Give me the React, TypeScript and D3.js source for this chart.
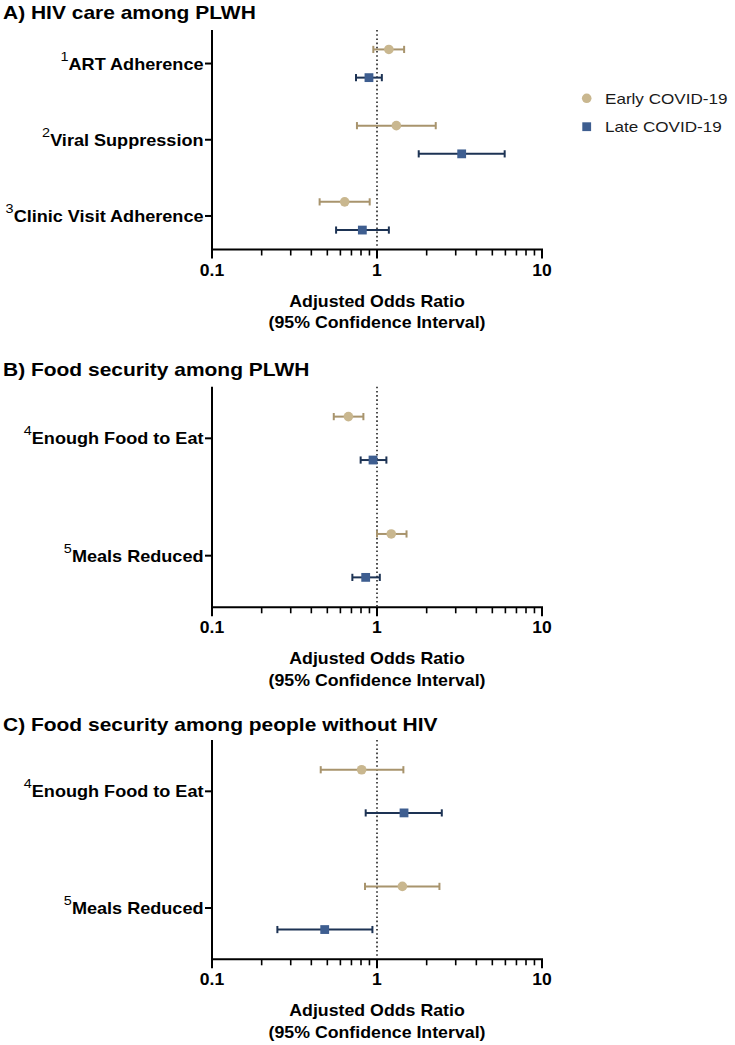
import React from 'react';
import * as d3 from 'd3';

// ---------- DATA ----------
const seriesNames = ['Early COVID-19', 'Late COVID-19'];
const panelTitles = [
  'A) HIV care among PLWH',
  'B) Food security among PLWH',
  'C) Food security among people without HIV',
];

// Panel A
const aCategories = ['ART Adherence', 'Viral Suppression', 'Clinic Visit Adherence'];
const aSuperscripts = ['1', '2', '3'];
const aEarlyOR = [1.18, 1.31, 0.637];
const aEarlyLo = [0.95, 0.756, 0.449];
const aEarlyHi = [1.46, 2.27, 0.903];
const aLateOR = [0.894, 3.26, 0.815];
const aLateLo = [0.746, 1.79, 0.565];
const aLateHi = [1.07, 5.94, 1.18];

// Panel B
const bCategories = ['Enough Food to Eat', 'Meals Reduced'];
const bSuperscripts = ['4', '5'];
const bEarlyOR = [0.671, 1.22];
const bEarlyLo = [0.547, 1.0];
const bEarlyHi = [0.827, 1.51];
const bLateOR = [0.946, 0.854];
const bLateLo = [0.796, 0.709];
const bLateHi = [1.14, 1.04];

// Panel C
const cCategories = ['Enough Food to Eat', 'Meals Reduced'];
const cSuperscripts = ['4', '5'];
const cEarlyOR = [0.807, 1.425];
const cEarlyLo = [0.456, 0.846];
const cEarlyHi = [1.445, 2.39];
const cLateOR = [1.458, 0.482];
const cLateLo = [0.854, 0.249];
const cLateHi = [2.47, 0.938];

const xMajorTicks = [0.1, 1, 10];
const xTickLabels = ['0.1', '1', '10'];
const xAxisTitle = ['Adjusted Odds Ratio', '(95% Confidence Interval)'];

// ---------- STYLE / LAYOUT ----------
const W = 735;
const H = 1045;
const FONT = '"Liberation Sans", Arial, Helvetica, sans-serif';
const SX = 1.11; // horizontal stretch of the reference
const EARLY_FILL = '#c9b78f';
const EARLY_LINE = '#a8946d';
const LATE_FILL = '#3e5e90';
const LATE_LINE = '#1d3354';
const AXIS_X0 = 212;
const AXIS_X1 = 542;

const xScale = d3.scaleLog().domain([0.1, 10]).range([AXIS_X0, AXIS_X1]);
const minorTicks: number[] = [];
[0.1, 1].forEach((d) => {
  for (let k = 2; k <= 9; k++) minorTicks.push(d * k);
});

type Panel = {
  title: string;
  titleY: number;
  top: number;
  bottom: number;
  cats: string[];
  sups: string[];
  series: { or: number[]; lo: number[]; hi: number[] }[];
};

const panels: Panel[] = [
  {
    title: panelTitles[0], titleY: 18.5, top: 30, bottom: 249.5,
    cats: aCategories, sups: aSuperscripts,
    series: [
      { or: aEarlyOR, lo: aEarlyLo, hi: aEarlyHi },
      { or: aLateOR, lo: aLateLo, hi: aLateHi },
    ],
  },
  {
    title: panelTitles[1], titleY: 376, top: 386.7, bottom: 607.3,
    cats: bCategories, sups: bSuperscripts,
    series: [
      { or: bEarlyOR, lo: bEarlyLo, hi: bEarlyHi },
      { or: bLateOR, lo: bLateLo, hi: bLateHi },
    ],
  },
  {
    title: panelTitles[2], titleY: 730.5, top: 740, bottom: 959.3,
    cats: cCategories, sups: cSuperscripts,
    series: [
      { or: cEarlyOR, lo: cEarlyLo, hi: cEarlyHi },
      { or: cLateOR, lo: cLateLo, hi: cLateHi },
    ],
  },
];

function SText(props: {
  x: number; y: number; size: number; bold?: boolean; anchor?: string; children: any; fill?: string;
}) {
  const { x, y, size, bold, anchor, children, fill } = props;
  return (
    <text
      transform={`translate(${x},${y}) scale(${SX},1)`}
      fontFamily={FONT}
      fontSize={size}
      fontWeight={bold ? 'bold' : 'normal'}
      textAnchor={anchor || 'start'}
      fill={fill || '#000'}
    >
      {children}
    </text>
  );
}

function PanelView({ p }: { p: Panel }) {
  const y = d3.scalePoint<string>().domain(p.cats).range([p.top, p.bottom]).padding(0.44);
  const step = y.step();
  const off = step * 0.185;
  const cap = 3.6;
  const colors = [
    { fill: EARLY_FILL, line: EARLY_LINE },
    { fill: LATE_FILL, line: LATE_LINE },
  ];
  return (
    <g>
      <SText x={3} y={p.titleY} size={18.9} bold>{p.title}</SText>
      {/* reference line */}
      <line x1={xScale(1)} x2={xScale(1)} y1={p.top} y2={p.bottom - 1}
        stroke="#222" strokeWidth={1.6} strokeDasharray="1.6 2.6" />
      {/* axes */}
      <line x1={AXIS_X0} x2={AXIS_X0} y1={p.top} y2={p.bottom + 1} stroke="#000" strokeWidth={2} />
      <line x1={AXIS_X0 - 1} x2={AXIS_X1 + 1} y1={p.bottom} y2={p.bottom} stroke="#000" strokeWidth={2} />
      {xMajorTicks.map((t) => (
        <line key={'M' + t} x1={xScale(t)} x2={xScale(t)} y1={p.bottom} y2={p.bottom + 9}
          stroke="#000" strokeWidth={2} />
      ))}
      {minorTicks.map((t) => (
        <line key={'m' + t} x1={xScale(t)} x2={xScale(t)} y1={p.bottom} y2={p.bottom + 6}
          stroke="#000" strokeWidth={1.6} />
      ))}
      {xMajorTicks.map((t, i) => (
        <SText key={'L' + t} x={xScale(t)} y={p.bottom + 26} size={15.8} bold anchor="middle">
          {xTickLabels[i]}
        </SText>
      ))}
      <SText x={(AXIS_X0 + AXIS_X1) / 2} y={p.bottom + 57} size={16} bold anchor="middle">
        {xAxisTitle[0]}
      </SText>
      <SText x={(AXIS_X0 + AXIS_X1) / 2} y={p.bottom + 78.5} size={16} bold anchor="middle">
        {xAxisTitle[1]}
      </SText>
      {/* categories */}
      {p.cats.map((c, i) => {
        const cy = y(c) as number;
        return (
          <g key={c}>
            <line x1={AXIS_X0 - 7} x2={AXIS_X0} y1={cy} y2={cy} stroke="#000" strokeWidth={2} />
            <SText x={AXIS_X0 - 8.5} y={cy + 6} size={16.3} bold anchor="end">
              <tspan fontSize={13} fontWeight="normal" dy={-9}>{p.sups[i]}</tspan>
              <tspan dy={9}>{c}</tspan>
            </SText>
          </g>
        );
      })}
      {/* error bars */}
      {p.series.map((s, si) =>
        p.cats.map((c, i) => {
          const cy = (y(c) as number) + (si === 0 ? -off : off);
          const x0 = xScale(s.lo[i]);
          const x1 = xScale(s.hi[i]);
          const col = colors[si];
          return (
            <g key={'e' + si + c}>
              <line x1={x0} x2={x1} y1={cy} y2={cy} stroke={col.line} strokeWidth={2} />
              <line x1={x0} x2={x0} y1={cy - cap} y2={cy + cap} stroke={col.line} strokeWidth={2} />
              <line x1={x1} x2={x1} y1={cy - cap} y2={cy + cap} stroke={col.line} strokeWidth={2} />
            </g>
          );
        })
      )}
      {/* markers */}
      {p.series.map((s, si) =>
        p.cats.map((c, i) => {
          const cy = (y(c) as number) + (si === 0 ? -off : off);
          const cx = xScale(s.or[i]);
          return si === 0 ? (
            <circle key={'p' + si + c} cx={cx} cy={cy} r={4.8} fill={EARLY_FILL} />
          ) : (
            <rect key={'p' + si + c} x={cx - 4.4} y={cy - 4.4} width={8.8} height={8.8} fill={LATE_FILL} />
          );
        })
      )}
    </g>
  );
}

export default function App() {
  return (
    <svg width={W} height={H} viewBox={`0 0 ${W} ${H}`}
      style={{ position: 'absolute', left: 0, top: 0, background: '#fff' }}>
      <rect x={0} y={0} width={W} height={H} fill="#fff" />
      {panels.map((p, i) => (
        <PanelView key={i} p={p} />
      ))}
      {/* legend */}
      <circle cx={586.7} cy={98.3} r={4.8} fill={EARLY_FILL} />
      <rect x={586.7 - 4.4} y={126.7 - 4.4} width={8.8} height={8.8} fill={LATE_FILL} />
      <SText x={605} y={104.3} size={15.4} fill="#1a1a1a">{seriesNames[0]}</SText>
      <SText x={605} y={132} size={15.4} fill="#1a1a1a">{seriesNames[1]}</SText>
    </svg>
  );
}
